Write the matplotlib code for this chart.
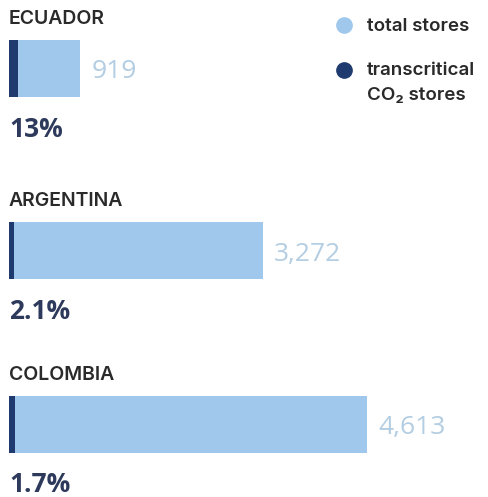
import matplotlib
matplotlib.use('Agg')
import matplotlib.pyplot as plt

countries = ['ECUADOR', 'ARGENTINA', 'COLOMBIA']
total_stores = [919, 3272, 4613]
co2_share_pct = [13, 2.1, 1.7]
share_labels = ['13%', '2.1%', '1.7%']

light = '#9fc8ec'
dark = '#1f3a6e'
value_col = '#b3cde2'
pct_col = '#2e3a5c'
name_col = '#2a2a2a'
num_font = 'Open Sans'
label_font = ['Inter', 'DejaVu Sans']

W, H = 489, 497
fig = plt.figure(figsize=(W / 100, H / 100), dpi=100)
fig.patch.set_facecolor('white')

# x in store counts, y in pixel rows from the top
x0, xmax = 9, 6000
px_per_store = 0.0775
ax = fig.add_axes([x0 / W, 0, xmax * px_per_store / W, 1])
ax.set_xlim(0, xmax)
ax.set_ylim(H, 0)
ax.axis('off')

bar_y = [68.5, 250.5, 424]
bar_h = 57

co2_stores = [t * p / 100 for t, p in zip(total_stores, co2_share_pct)]
ax.barh(bar_y, total_stores, height=bar_h, color=light, linewidth=0)
ax.barh(bar_y, co2_stores, height=bar_h, color=dark, linewidth=0)

for name, yc, tot, lab in zip(countries, bar_y, total_stores, share_labels):
    top, bot = yc - bar_h / 2, yc + bar_h / 2
    ax.text(0, top - 16, name, fontsize=14, fontweight='semibold', color=name_col,
            family=label_font, va='baseline', ha='left')
    ax.text(tot + 150, yc + 10, f'{tot:,}', fontsize=19, color=value_col,
            family=num_font, va='baseline', ha='left')
    ax.text(0, bot + 40, lab, fontsize=19, fontweight='bold', color=pct_col,
            family=num_font, va='baseline', ha='left')

# legend
fig.add_artist(plt.Line2D([344 / W], [1 - 24.5 / H], marker='o', markersize=11,
                          color=light, linestyle='none', transform=fig.transFigure))
fig.add_artist(plt.Line2D([344 / W], [1 - 69.5 / H], marker='o', markersize=11,
                          color=dark, linestyle='none', transform=fig.transFigure))
leg_kw = dict(fontsize=13.5, color=name_col, family=label_font, fontweight='semibold',
              va='baseline', ha='left')
fig.text(367 / W, 1 - 31 / H, 'total stores', **leg_kw)
fig.text(367 / W, 1 - 75 / H, 'transcritical', **leg_kw)
fig.text(367 / W, 1 - 100 / H, 'CO₂ stores', **leg_kw)

fig.savefig('out.png', dpi=100)
